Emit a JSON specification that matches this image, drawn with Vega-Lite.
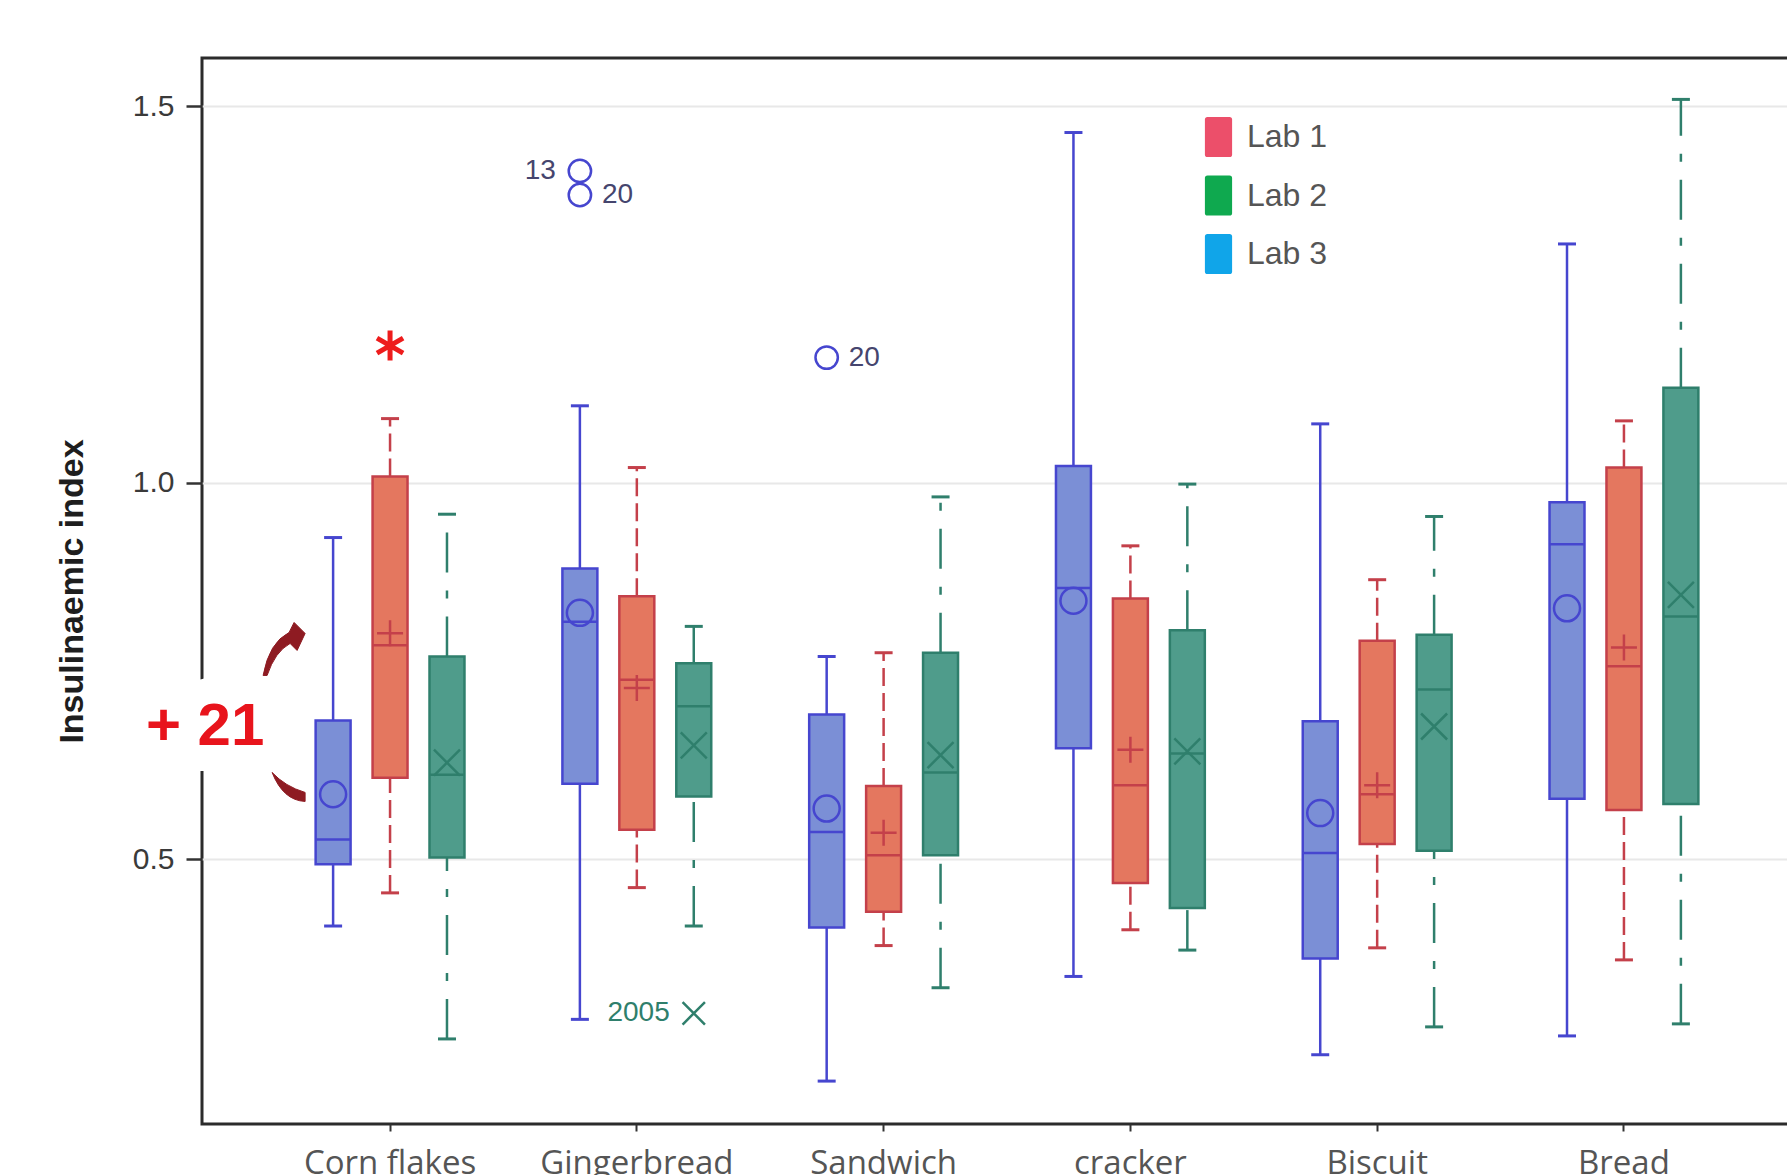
{
  "$schema": "https://vega.github.io/schema/vega-lite/v6.json",
  "width": 1610,
  "height": 1066,
  "autosize": {"type": "none"},
  "padding": {"left": 202, "top": 58, "right": 0, "bottom": 51},
  "background": "#ffffff",
  "config": {
    "view": {"stroke": "#2b2b2b", "strokeWidth": 3},
    "font": "Liberation Sans",
    "axisY": {"title": "Insulinaemic index", "format": ".1f", "domain": false, "grid": true, "gridColor": "#e8e8e8", "gridWidth": 2, "tickSize": 16, "tickWidth": 2.5, "tickColor": "#333333", "labelFontSize": 30, "labelFont": "Liberation Sans", "labelColor": "#3a3a3a", "labelPadding": 12, "titleFontSize": 34, "titleFont": "Liberation Sans", "titleFontWeight": "bold", "titleColor": "#1e1e1e", "titlePadding": 43}
  },
  "datasets": {
    "boxes": [
      {"cat": "Corn flakes", "lab": "Lab 3", "lo": 0.411, "q1": 0.493, "med": 0.526, "q3": 0.684, "hi": 0.927, "mean": 0.586},
      {"cat": "Corn flakes", "lab": "Lab 1", "lo": 0.455, "q1": 0.608, "med": 0.784, "q3": 1.008, "hi": 1.085, "mean": 0.800},
      {"cat": "Corn flakes", "lab": "Lab 2", "lo": 0.261, "q1": 0.502, "med": 0.612, "q3": 0.769, "hi": 0.958, "mean": 0.628},
      {"cat": "Gingerbread", "lab": "Lab 3", "lo": 0.287, "q1": 0.600, "med": 0.815, "q3": 0.886, "hi": 1.102, "mean": 0.827},
      {"cat": "Gingerbread", "lab": "Lab 1", "lo": 0.462, "q1": 0.539, "med": 0.738, "q3": 0.849, "hi": 1.020, "mean": 0.727},
      {"cat": "Gingerbread", "lab": "Lab 2", "lo": 0.411, "q1": 0.583, "med": 0.703, "q3": 0.760, "hi": 0.809, "mean": 0.651},
      {"cat": "Sandwich", "lab": "Lab 3", "lo": 0.205, "q1": 0.409, "med": 0.536, "q3": 0.692, "hi": 0.769, "mean": 0.567},
      {"cat": "Sandwich", "lab": "Lab 1", "lo": 0.385, "q1": 0.430, "med": 0.505, "q3": 0.597, "hi": 0.774, "mean": 0.535},
      {"cat": "Sandwich", "lab": "Lab 2", "lo": 0.329, "q1": 0.505, "med": 0.615, "q3": 0.774, "hi": 0.981, "mean": 0.638},
      {"cat": "cracker", "lab": "Lab 3", "lo": 0.344, "q1": 0.647, "med": 0.860, "q3": 1.022, "hi": 1.465, "mean": 0.843},
      {"cat": "cracker", "lab": "Lab 1", "lo": 0.406, "q1": 0.468, "med": 0.598, "q3": 0.846, "hi": 0.916, "mean": 0.645},
      {"cat": "cracker", "lab": "Lab 2", "lo": 0.379, "q1": 0.435, "med": 0.640, "q3": 0.804, "hi": 0.998, "mean": 0.643},
      {"cat": "Biscuit", "lab": "Lab 3", "lo": 0.240, "q1": 0.368, "med": 0.508, "q3": 0.683, "hi": 1.078, "mean": 0.561},
      {"cat": "Biscuit", "lab": "Lab 1", "lo": 0.382, "q1": 0.520, "med": 0.586, "q3": 0.790, "hi": 0.871, "mean": 0.598},
      {"cat": "Biscuit", "lab": "Lab 2", "lo": 0.277, "q1": 0.511, "med": 0.725, "q3": 0.798, "hi": 0.955, "mean": 0.676},
      {"cat": "Bread", "lab": "Lab 3", "lo": 0.265, "q1": 0.580, "med": 0.918, "q3": 0.974, "hi": 1.317, "mean": 0.833},
      {"cat": "Bread", "lab": "Lab 1", "lo": 0.366, "q1": 0.565, "med": 0.756, "q3": 1.020, "hi": 1.082, "mean": 0.781},
      {"cat": "Bread", "lab": "Lab 2", "lo": 0.281, "q1": 0.573, "med": 0.822, "q3": 1.126, "hi": 1.509, "mean": 0.851}
    ],
    "outliers": [
      {"cat": "Gingerbread", "lab": "Lab 3", "v": 1.414, "label": "13", "side": "L"},
      {"cat": "Gingerbread", "lab": "Lab 3", "v": 1.382, "label": "20", "side": "R"},
      {"cat": "Sandwich", "lab": "Lab 3", "v": 1.166, "label": "20", "side": "R"},
      {"cat": "Gingerbread", "lab": "Lab 2", "v": 0.295, "label": "2005", "side": "L"}
    ],
    "notes": [{"cat": "Corn flakes", "lab": "Lab 3", "v": 0.676, "t": "+ 21"}],
    "arrows": [{"cat": "Corn flakes", "lab": "Lab 3", "v": 0.7}],
    "star": [{"cat": "Corn flakes", "lab": "Lab 1", "v": 1.182}]
  },
  "encoding": {
    "x": {
      "field": "cat", "type": "nominal",
      "scale": {"domain": ["Corn flakes", "Gingerbread", "Sandwich", "cracker", "Biscuit", "Bread"], "paddingInner": 0, "paddingOuter": 0.262},
      "axis": {"title": null, "labelAngle": 0, "labelLimit": 0, "labelFontSize": 33, "labelFont": "Open Sans", "labelColor": "#555555", "labelPadding": 16, "tickSize": 7, "tickWidth": 2, "tickColor": "#333333", "domain": false, "grid": false}
    },
    "xOffset": {"field": "lab", "type": "nominal", "scale": {"domain": ["Lab 3", "Lab 1", "Lab 2"], "paddingInner": 0.386, "paddingOuter": 0.86}}
  },
  "layer": [
    {
      "data": {"name": "notes"},
      "mark": {"type": "text", "fontSize": 60, "fontWeight": "bold", "font": "Liberation Sans", "fill": "#ffffff", "stroke": "#ffffff", "strokeWidth": 52, "strokeJoin": "round", "dx": -128, "align": "center", "baseline": "middle"},
      "encoding": {
        "y": {"field": "v", "type": "quantitative", "title": "Insulinaemic index", "axis": {"values": [0.5, 1, 1.5]}, "scale": {"domain": [0.148, 1.564], "nice": false, "zero": false}},
        "text": {"field": "t"}
      }
    },
    {
      "data": {"name": "arrows"},
      "mark": {"type": "point", "shape": "M-70,-33Q-64,-66 -44,-76L-39,-86L-28,-75L-36,-58L-43,-65Q-58,-57 -66,-33ZM-61,64Q-48,78 -28,84L-28,93Q-50,92 -61,64Z", "size": 4, "filled": true, "fill": "#8e1b22", "stroke": "#8e1b22", "strokeWidth": 1, "opacity": 1},
      "encoding": {
        "y": {"field": "v", "type": "quantitative", "title": "Insulinaemic index", "axis": {"values": [0.5, 1, 1.5]}, "scale": {"domain": [0.148, 1.564], "nice": false, "zero": false}}
      }
    },
    {
      "data": {"name": "notes"},
      "mark": {"type": "text", "fontSize": 60, "fontWeight": "bold", "font": "Liberation Sans", "fill": "#e8141c", "dx": -128, "align": "center", "baseline": "middle"},
      "encoding": {
        "y": {"field": "v", "type": "quantitative", "title": "Insulinaemic index", "axis": {"values": [0.5, 1, 1.5]}, "scale": {"domain": [0.148, 1.564], "nice": false, "zero": false}},
        "text": {"field": "t"}
      }
    },
    {
      "data": {"name": "boxes"},
      "mark": {"type": "point", "shape": "M-0.55,-1H0.55Q0.68,-1 0.68,-0.87V0.87Q0.68,1 0.55,1H-0.55Q-0.68,1 -0.68,0.87V-0.87Q-0.68,-1 -0.55,-1Z", "size": 1600, "filled": true, "opacity": 0},
      "encoding": {
        "y": {"field": "q1", "type": "quantitative", "title": "Insulinaemic index", "axis": {"values": [0.5, 1, 1.5]}, "scale": {"domain": [0.148, 1.564], "nice": false, "zero": false}},
        "color": {
          "field": "lab", "type": "nominal",
          "scale": {"domain": ["Lab 1", "Lab 2", "Lab 3"], "range": ["#ec4f6a", "#0fa94f", "#10a5e9"]},
          "legend": {
            "orient": "none", "legendX": 996.5, "legendY": 59, "title": null, "padding": 0,
            "symbolType": "M-0.55,-1H0.55Q0.68,-1 0.68,-0.87V0.87Q0.68,1 0.55,1H-0.55Q-0.68,1 -0.68,0.87V-0.87Q-0.68,-1 -0.55,-1Z",
            "symbolSize": 1600, "symbolStrokeWidth": 0, "symbolOpacity": 1,
            "labelFontSize": 32, "labelFont": "Liberation Sans", "labelColor": "#555555", "labelOffset": 8.5, "rowPadding": 18.5
          }
        }
      }
    },
    {
      "data": {"name": "boxes"},
      "mark": {"type": "rule", "strokeWidth": 2.5},
      "encoding": {
        "y": {"field": "lo", "type": "quantitative", "title": "Insulinaemic index", "axis": {"values": [0.5, 1, 1.5]}, "scale": {"domain": [0.148, 1.564], "nice": false, "zero": false}},
        "y2": {"field": "q1"},
        "stroke": {"field": "lab", "type": "nominal", "scale": {"domain": ["Lab 3", "Lab 1", "Lab 2"], "range": ["#4646cf", "#c4404a", "#2f7f6c"]}, "legend": null},
        "strokeDash": {"field": "lab", "type": "nominal", "scale": {"domain": ["Lab 3", "Lab 1", "Lab 2"], "range": [[1, 0], [18, 7], [40, 18, 8, 18]]}, "legend": null}
      }
    },
    {
      "data": {"name": "boxes"},
      "mark": {"type": "rule", "strokeWidth": 2.5},
      "encoding": {
        "y": {"field": "q3", "type": "quantitative", "title": "Insulinaemic index", "axis": {"values": [0.5, 1, 1.5]}, "scale": {"domain": [0.148, 1.564], "nice": false, "zero": false}},
        "y2": {"field": "hi"},
        "stroke": {"field": "lab", "type": "nominal", "scale": {"domain": ["Lab 3", "Lab 1", "Lab 2"], "range": ["#4646cf", "#c4404a", "#2f7f6c"]}, "legend": null},
        "strokeDash": {"field": "lab", "type": "nominal", "scale": {"domain": ["Lab 3", "Lab 1", "Lab 2"], "range": [[1, 0], [18, 7], [40, 18, 8, 18]]}, "legend": null}
      }
    },
    {
      "data": {"name": "boxes"},
      "mark": {"type": "point", "shape": "M-1,0H1", "size": 324, "filled": false, "strokeWidth": 3, "opacity": 1},
      "encoding": {
        "y": {"field": "lo", "type": "quantitative", "title": "Insulinaemic index", "axis": {"values": [0.5, 1, 1.5]}, "scale": {"domain": [0.148, 1.564], "nice": false, "zero": false}},
        "stroke": {"field": "lab", "type": "nominal", "scale": {"domain": ["Lab 3", "Lab 1", "Lab 2"], "range": ["#4646cf", "#c4404a", "#2f7f6c"]}, "legend": null}
      }
    },
    {
      "data": {"name": "boxes"},
      "mark": {"type": "point", "shape": "M-1,0H1", "size": 324, "filled": false, "strokeWidth": 3, "opacity": 1},
      "encoding": {
        "y": {"field": "hi", "type": "quantitative", "title": "Insulinaemic index", "axis": {"values": [0.5, 1, 1.5]}, "scale": {"domain": [0.148, 1.564], "nice": false, "zero": false}},
        "stroke": {"field": "lab", "type": "nominal", "scale": {"domain": ["Lab 3", "Lab 1", "Lab 2"], "range": ["#4646cf", "#c4404a", "#2f7f6c"]}, "legend": null}
      }
    },
    {
      "data": {"name": "boxes"},
      "mark": {"type": "bar", "strokeWidth": 2.5},
      "encoding": {
        "y": {"field": "q1", "type": "quantitative", "title": "Insulinaemic index", "axis": {"values": [0.5, 1, 1.5]}, "scale": {"domain": [0.148, 1.564], "nice": false, "zero": false}},
        "y2": {"field": "q3"},
        "fill": {"field": "lab", "type": "nominal", "scale": {"domain": ["Lab 3", "Lab 1", "Lab 2"], "range": ["#7b8fd6", "#e4775f", "#4f9c8b"]}, "legend": null},
        "stroke": {"field": "lab", "type": "nominal", "scale": {"domain": ["Lab 3", "Lab 1", "Lab 2"], "range": ["#4646cf", "#c4404a", "#2f7f6c"]}, "legend": null}
      }
    },
    {
      "data": {"name": "boxes"},
      "mark": {"type": "point", "shape": "M-1,0H1", "size": 1225, "filled": false, "strokeWidth": 2.5, "opacity": 1},
      "encoding": {
        "y": {"field": "med", "type": "quantitative", "title": "Insulinaemic index", "axis": {"values": [0.5, 1, 1.5]}, "scale": {"domain": [0.148, 1.564], "nice": false, "zero": false}},
        "stroke": {"field": "lab", "type": "nominal", "scale": {"domain": ["Lab 3", "Lab 1", "Lab 2"], "range": ["#4646cf", "#c4404a", "#2f7f6c"]}, "legend": null}
      }
    },
    {
      "data": {"name": "boxes"},
      "mark": {"type": "point", "size": 676, "filled": false, "strokeWidth": 2.5, "opacity": 1},
      "encoding": {
        "y": {"field": "mean", "type": "quantitative", "title": "Insulinaemic index", "axis": {"values": [0.5, 1, 1.5]}, "scale": {"domain": [0.148, 1.564], "nice": false, "zero": false}},
        "stroke": {"field": "lab", "type": "nominal", "scale": {"domain": ["Lab 3", "Lab 1", "Lab 2"], "range": ["#4646cf", "#c4404a", "#2f7f6c"]}, "legend": null},
        "shape": {"field": "lab", "type": "nominal", "scale": {"domain": ["Lab 3", "Lab 1", "Lab 2"], "range": ["circle", "M-1,0H1M0,-1V1", "M-1,-1L1,1M-1,1L1,-1"]}, "legend": null}
      }
    },
    {
      "data": {"name": "outliers"},
      "mark": {"type": "point", "size": 500, "filled": false, "strokeWidth": 2.5, "opacity": 1},
      "encoding": {
        "y": {"field": "v", "type": "quantitative", "title": "Insulinaemic index", "axis": {"values": [0.5, 1, 1.5]}, "scale": {"domain": [0.148, 1.564], "nice": false, "zero": false}},
        "stroke": {"field": "lab", "type": "nominal", "scale": {"domain": ["Lab 3", "Lab 1", "Lab 2"], "range": ["#4646cf", "#c4404a", "#2f7f6c"]}, "legend": null},
        "shape": {"field": "lab", "type": "nominal", "scale": {"domain": ["Lab 3", "Lab 1", "Lab 2"], "range": ["circle", "M-1,0H1M0,-1V1", "M-1,-1L1,1M-1,1L1,-1"]}, "legend": null}
      }
    },
    {
      "data": {"name": "outliers"},
      "transform": [{"filter": "datum.side === 'L'"}],
      "mark": {"type": "text", "fontSize": 28, "font": "Liberation Sans", "align": "right", "baseline": "middle", "dx": -24},
      "encoding": {
        "y": {"field": "v", "type": "quantitative", "title": "Insulinaemic index", "axis": {"values": [0.5, 1, 1.5]}, "scale": {"domain": [0.148, 1.564], "nice": false, "zero": false}},
        "text": {"field": "label"},
        "fill": {"condition": {"test": "datum.lab === 'Lab 2'", "value": "#2f7f6c"}, "value": "#45456e"}
      }
    },
    {
      "data": {"name": "outliers"},
      "transform": [{"filter": "datum.side === 'R'"}],
      "mark": {"type": "text", "fontSize": 28, "font": "Liberation Sans", "align": "left", "baseline": "middle", "dx": 22},
      "encoding": {
        "y": {"field": "v", "type": "quantitative", "title": "Insulinaemic index", "axis": {"values": [0.5, 1, 1.5]}, "scale": {"domain": [0.148, 1.564], "nice": false, "zero": false}},
        "text": {"field": "label"},
        "fill": {"condition": {"test": "datum.lab === 'Lab 2'", "value": "#2f7f6c"}, "value": "#45456e"}
      }
    },
    {
      "data": {"name": "star"},
      "mark": {"type": "point", "shape": "M0,-1V1M-0.87,-0.5L0.87,0.5M-0.87,0.5L0.87,-0.5", "size": 900, "filled": false, "stroke": "#ee1c1c", "strokeWidth": 5, "opacity": 1},
      "encoding": {
        "y": {"field": "v", "type": "quantitative", "title": "Insulinaemic index", "axis": {"values": [0.5, 1, 1.5]}, "scale": {"domain": [0.148, 1.564], "nice": false, "zero": false}}
      }
    }
  ]
}
